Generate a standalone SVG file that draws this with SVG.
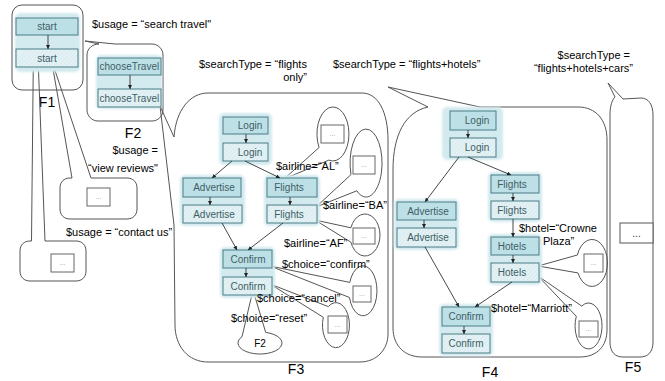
<svg xmlns="http://www.w3.org/2000/svg" width="665" height="381" viewBox="0 0 665 381">
<defs>
<style>
.frame{fill:none;stroke:#555;stroke-width:1}
.shade{fill:url(#gshade);filter:url(#soft)}
.top{fill:#bde0e7;stroke:#4a7c86;stroke-width:1}
.bot{fill:url(#hatch);stroke:#4a7c86;stroke-width:1}
.nt{font-family:"Liberation Sans",Arial,sans-serif;font-size:10px;fill:#3e5e65;text-anchor:middle}
.lbl{font-family:"Liberation Sans",Arial,sans-serif;font-size:11px;fill:#000}
.big{font-family:"Liberation Sans",Arial,sans-serif;font-size:14px;fill:#000;text-anchor:middle}
.dots{fill:#fff;stroke:#666;stroke-width:1}
.dt{font-family:"Liberation Sans",Arial,sans-serif;font-size:7px;fill:#999;text-anchor:middle}
.con{fill:none;stroke:#333;stroke-width:0.9;marker-end:url(#ah)}
</style>
<pattern id="hatch" width="3" height="3" patternUnits="userSpaceOnUse" patternTransform="rotate(45)">
<rect width="3" height="3" fill="#e4f2f5"/><line x1="0" y1="0" x2="0" y2="3" stroke="#cbe2e7" stroke-width="1"/>
</pattern>
<pattern id="gshade" width="3" height="3" patternUnits="userSpaceOnUse" patternTransform="rotate(45)">
<rect width="3" height="3" fill="#d6ecf1"/><line x1="0" y1="0" x2="0" y2="3" stroke="#c4dee5" stroke-width="1"/>
</pattern>
<filter id="soft" x="-10%" y="-10%" width="120%" height="120%"><feGaussianBlur stdDeviation="1.2"/></filter>
<marker id="ah" viewBox="0 0 8 8" refX="8" refY="4" markerWidth="4.5" markerHeight="4.5" orient="auto"><path d="M0,0 L8,4 L0,8 z" fill="#222"/></marker>
</defs>
<rect width="665" height="381" fill="#fff"/>

<!-- frames / callouts -->
<g id="F1">
<rect class="frame" x="12" y="5" width="71" height="85" rx="10" fill="#fff"/>
<text class="big" x="47" y="107">F1</text>
</g>
<g id="F2">
<path class="frame" d="M99,44 L85,41 L115,44 L152,44 C158,44 163,49 163,55 L163,110 C163,116 158,121 152,121 L98,121 C92,121 87,116 87,110 L87,55 C87,49 92,44 99,44 Z"/>
<text class="big" x="133" y="138">F2</text>
</g>
<g id="viewReviews">
<path class="frame" d="M72,178 L52.5,66 L53.5,66 L91,178 L127,178 C133,178 137,182 137,188 L137,209 C137,215 133,219 127,219 L70,219 C64,219 60,215 60,209 L60,188 C60,182 64,178 70,178 Z"/>
<rect class="dots" x="87" y="188" width="23" height="18"/><text class="dt" x="98.5" y="199">...</text>
</g>
<g id="contactUs">
<path class="frame" d="M31.5,241 L33.3,62 L38.2,62 L45,241 L76,241 C82,241 86,245 86,251 L86,271 C86,277 82,281 76,281 L30,281 C24,281 20,277 20,271 L20,251 C20,245 24,241 30,241 Z"/>
<rect class="dots" x="51" y="254" width="23" height="18"/><text class="dt" x="62.5" y="265">...</text>
</g>
<g id="F3">
<path class="frame" d="M174,137 L160,106 L174,225 L175,325 C175,346 188,362 208,362 L360,362 C376,362 388,350 388,334 L388,140 C388,112 378,93 362,93 L208,93 C190,93 176,110 174,137 Z"/>
<text class="big" x="296" y="374">F3</text>
</g>
<g id="F4">
<path class="frame" d="M428,107 L388,87 L480,107 L578,107 C596,107 607,120 607,140 L607,330 C607,346 597,357 580,357 L422,357 C405,357 393,346 393,328 L393,170 C393,135 405,112 428,107 Z"/>
<text class="big" x="490" y="377">F4</text>
</g>
<g id="F5">
<path class="frame" d="M615,97 L608,83 L623,99 L641,98 C648,98 653,104 653,115 L653,342 C653,352 648,357 640,357 L623,357 C615,357 610,352 610,342 L610,115 C610,106 612,100 615,97 Z"/>
<rect x="620" y="223" width="33" height="20" fill="#fff" stroke="#555"/>
<text x="636.5" y="237" font-family="Liberation Sans, Arial, sans-serif" font-size="10" fill="#333" text-anchor="middle">...</text>
<text class="big" x="633" y="372">F5</text>
</g>

<!-- ellipse callouts -->
<g id="calloutAL">
<path class="frame" d="M319.1,147.5 A16,27 0 1 1 328.9,160.1 L284,179 Z"/>
<rect class="dots" x="321" y="125" width="23" height="18"/><text class="dt" x="332.5" y="136">...</text>
</g>
<g id="calloutBA">
<path class="frame" d="M351,174.6 A16,34 0 1 1 356.8,190.8 L316,207 Z"/>
<rect class="dots" x="353" y="156" width="22" height="18"/><text class="dt" x="364" y="167">...</text>
</g>
<g id="calloutAF">
<path class="frame" d="M350.9,227.8 A15,21 0 1 1 350.9,242.2 L315,220 Z"/>
<rect class="dots" x="353" y="228" width="22" height="16"/><text class="dt" x="364" y="238">...</text>
</g>
<g id="calloutConfirm">
<path class="frame" d="M349.8,282.4 A14,25 0 1 1 349.5,297.5 L270,266 Z"/>
<rect class="dots" x="353" y="286" width="18" height="16"/><text class="dt" x="362" y="296">...</text>
</g>
<g id="calloutCancel">
<path class="frame" d="M328.3,306.6 A13.5,22.5 0 1 1 323.3,317.3 L270,284 Z"/>
<rect class="dots" x="328" y="316" width="19" height="17"/><text class="dt" x="337.5" y="327">...</text>
</g>
<g id="calloutReset">
<path class="frame" d="M265.7,332.4 A22,11 0 1 1 242,336.7 L253,290 Z"/>
<text x="260" y="347" font-family="Liberation Sans, Arial, sans-serif" font-size="10" fill="#000" text-anchor="middle">F2</text>
</g>
<g id="calloutCrowne">
<path class="frame" d="M577.4,255 A15.5,23.5 0 1 1 577.95,272.9 L538,266 Z"/>
<rect class="dots" x="584" y="254" width="19" height="18"/><text class="dt" x="593.5" y="265">...</text>
</g>
<g id="calloutMarriott">
<path class="frame" d="M581.75,306.1 A13.5,23 0 1 1 576.3,316.3 L538,276 Z"/>
<rect class="dots" x="579" y="321" width="19" height="16"/><text class="dt" x="588.5" y="331">...</text>
</g>

<!-- shading -->
<g id="shading">
<rect class="shade" x="15" y="13" width="65" height="59" rx="5"/>
<rect class="shade" x="96" y="55" width="66" height="54" rx="5"/>
<rect class="shade" x="219" y="113" width="53" height="52" rx="5"/>
<rect class="shade" x="180" y="175" width="65" height="51" rx="5"/>
<rect class="shade" x="264" y="175" width="56" height="51" rx="5"/>
<rect class="shade" x="220" y="247" width="55" height="51" rx="5"/>
<rect class="shade" x="442" y="107" width="61" height="53" rx="5"/>
<rect class="shade" x="394" y="199" width="65" height="51" rx="5"/>
<rect class="shade" x="488" y="172" width="54" height="50" rx="5"/>
<rect class="shade" x="488" y="234" width="54" height="51" rx="5"/>
<rect class="shade" x="439" y="304" width="54" height="52" rx="5"/>
</g>

<!-- nodes -->
<g id="n-start1"><rect class="top" x="16" y="18" width="62" height="17"/><text class="nt" x="47" y="30">start</text></g>
<g id="n-start2"><rect class="bot" x="16" y="49" width="62" height="18"/><text class="nt" x="47" y="62">start</text></g>
<g id="n-choose1"><rect class="top" x="98" y="58" width="63" height="17"/><text class="nt" x="99.5" y="70" text-anchor="start" style="text-anchor:start">chooseTravel</text></g>
<g id="n-choose2"><rect class="bot" x="98" y="89" width="63" height="18"/><text class="nt" x="99.5" y="102" style="text-anchor:start">chooseTravel</text></g>

<g id="f3-login1"><rect class="top" x="223" y="117" width="45" height="17"/><text class="nt" x="250" y="129">Login</text></g>
<g id="f3-login2"><rect class="bot" x="223" y="143" width="45" height="18"/><text class="nt" x="250" y="156">Login</text></g>
<g id="f3-adv1"><rect class="top" x="183" y="178" width="58" height="19"/><text class="nt" x="214" y="191">Advertise</text></g>
<g id="f3-adv2"><rect class="bot" x="183" y="205" width="59" height="18"/><text class="nt" x="214" y="218">Advertise</text></g>
<g id="f3-fl1"><rect class="top" x="267" y="178" width="50" height="19"/><text class="nt" x="289" y="191">Flights</text></g>
<g id="f3-fl2"><rect class="bot" x="267" y="205" width="50" height="18"/><text class="nt" x="289" y="218">Flights</text></g>
<g id="f3-conf1"><rect class="top" x="223" y="250" width="49" height="18"/><text class="nt" x="248" y="263">Confirm</text></g>
<g id="f3-conf2"><rect class="bot" x="223" y="277" width="49" height="18"/><text class="nt" x="248" y="290">Confirm</text></g>

<g id="f4-login1"><rect class="top" x="450" y="111" width="46" height="19"/><text class="nt" x="477" y="124">Login</text></g>
<g id="f4-login2"><rect class="bot" x="450" y="138" width="46" height="19"/><text class="nt" x="477" y="151">Login</text></g>
<g id="f4-fl1"><rect class="top" x="491" y="175" width="48" height="18"/><text class="nt" x="512" y="188">Flights</text></g>
<g id="f4-fl2"><rect class="bot" x="491" y="201" width="48" height="18"/><text class="nt" x="512" y="214">Flights</text></g>
<g id="f4-adv1"><rect class="top" x="397" y="202" width="59" height="18"/><text class="nt" x="428" y="215">Advertise</text></g>
<g id="f4-adv2"><rect class="bot" x="397" y="228" width="59" height="19"/><text class="nt" x="428" y="241">Advertise</text></g>
<g id="f4-hot1"><rect class="top" x="491" y="237" width="48" height="18"/><text class="nt" x="512" y="250">Hotels</text></g>
<g id="f4-hot2"><rect class="bot" x="491" y="263" width="48" height="19"/><text class="nt" x="512" y="276">Hotels</text></g>
<g id="f4-conf1"><rect class="top" x="442" y="307" width="48" height="19"/><text class="nt" x="466" y="320">Confirm</text></g>
<g id="f4-conf2"><rect class="bot" x="442" y="334" width="48" height="19"/><text class="nt" x="466" y="347">Confirm</text></g>

<!-- connectors -->
<g id="connectors">
<line class="con" x1="48" y1="35" x2="48" y2="49"/>
<line class="con" x1="130" y1="75" x2="130" y2="89"/>
<line class="con" x1="246" y1="134" x2="246" y2="143"/>
<line class="con" x1="232" y1="161" x2="212" y2="178"/>
<line class="con" x1="245" y1="161" x2="280" y2="178"/>
<line class="con" x1="210" y1="197" x2="210" y2="205"/>
<line class="con" x1="290" y1="197" x2="290" y2="205"/>
<line class="con" x1="222" y1="223" x2="237" y2="250"/>
<line class="con" x1="283" y1="223" x2="248" y2="250"/>
<line class="con" x1="246" y1="268" x2="246" y2="277"/>
<line class="con" x1="468" y1="130" x2="468" y2="138"/>
<line class="con" x1="459" y1="157" x2="425" y2="202"/>
<line class="con" x1="468" y1="157" x2="511" y2="175"/>
<line class="con" x1="424" y1="220" x2="424" y2="228"/>
<line class="con" x1="513" y1="193" x2="513" y2="201"/>
<line class="con" x1="513" y1="219" x2="513" y2="237"/>
<line class="con" x1="513" y1="255" x2="513" y2="263"/>
<line class="con" x1="425" y1="247" x2="459" y2="307"/>
<line class="con" x1="512" y1="282" x2="475" y2="307"/>
<line class="con" x1="464" y1="326" x2="464" y2="334"/>
</g>

<!-- labels -->
<g id="labels">
<text class="lbl" x="92" y="28">$usage = “search travel"</text>
<text class="lbl" x="158" y="154" text-anchor="end">$usage =</text>
<text class="lbl" x="158" y="172" text-anchor="end">“view reviews"</text>
<text class="lbl" x="66" y="236">$usage = “contact us”</text>
<text class="lbl" x="199" y="68">$searchType = “flights</text>
<text class="lbl" x="307" y="81" text-anchor="end">only”</text>
<text class="lbl" x="333" y="68">$searchType = “flights+hotels”</text>
<text class="lbl" x="630" y="59" text-anchor="end">$searchType =</text>
<text class="lbl" x="633" y="72" text-anchor="end">“flights+hotels+cars”</text>
<text class="lbl" x="276" y="170">$airline=“AL”</text>
<text class="lbl" x="323" y="209">$airline=“BA”</text>
<text class="lbl" x="284" y="247">$airline=“AF”</text>
<text class="lbl" x="282" y="268">$choice=“confirm”</text>
<text class="lbl" x="257" y="302">$choice=“cancel”</text>
<text class="lbl" x="231" y="322">$choice=“reset”</text>
<text class="lbl" x="519" y="232">$hotel=“Crowne</text>
<text class="lbl" x="543" y="245">Plaza”</text>
<text class="lbl" x="491" y="312">$hotel=“Marriott”</text>
</g>
</svg>
